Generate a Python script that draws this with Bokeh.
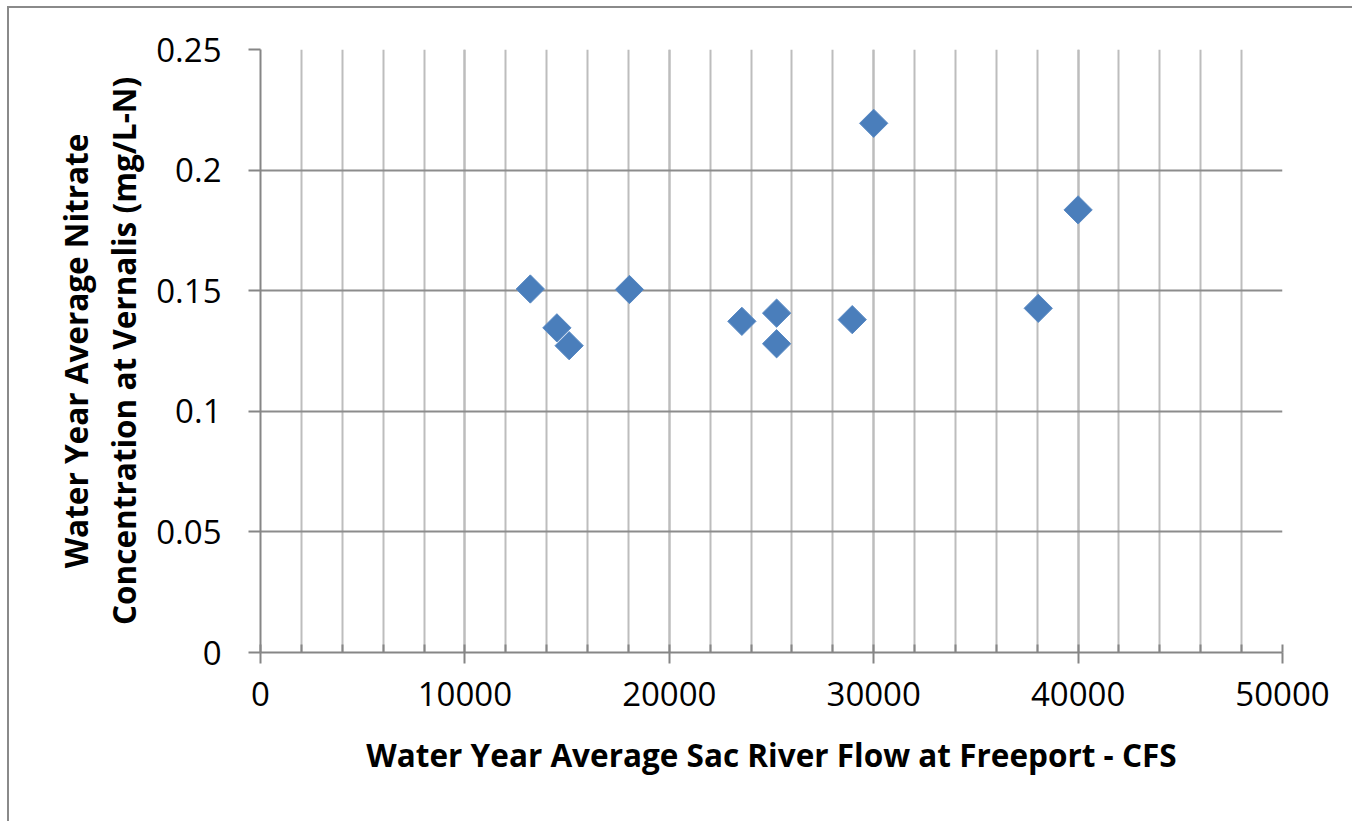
from bokeh.plotting import figure
from bokeh.models import FixedTicker, CustomJSTickFormatter, NumeralTickFormatter, Range1d
from bokeh.embed import file_html
from bokeh.resources import INLINE

flow_cfs = [13200, 14500, 15100, 18050, 23550, 25250, 25250, 28950, 30000, 38050, 40000]
nitrate = [0.1507, 0.1346, 0.1272, 0.1505, 0.1373, 0.1407, 0.1280, 0.1380, 0.2194, 0.1427, 0.1835]

x_major = [0, 10000, 20000, 30000, 40000, 50000]
x_minor = list(range(0, 50001, 2000))
y_major = [0, 0.05, 0.1, 0.15, 0.2, 0.25]

FONT = "Open Sans"
AXIS_GRAY = "#868686"

p = figure(width=1345, height=815, output_backend="svg", toolbar_location=None,
           x_range=Range1d(0, 50000), y_range=Range1d(0, 0.25),
           min_border_left=251, min_border_top=41, min_border_right=72, min_border_bottom=171)
p.styles = {"border-left": "2px solid #8a8a8a", "border-top": "2px solid #8a8a8a",
            "margin-left": "7px", "margin-top": "6px"}
p.outline_line_color = None
p.background_fill_color = "white"
p.border_fill_color = "white"

p.scatter(flow_cfs, nitrate, marker="square", angle=0.785398, size=20,
          fill_color="#4A7EBB", line_color="#5A8AC4", line_width=1)

# x axis
p.xaxis.ticker = FixedTicker(ticks=x_major, minor_ticks=x_minor)
p.xaxis.formatter = NumeralTickFormatter(format="0")
p.xaxis.axis_line_color = AXIS_GRAY
p.xaxis.axis_line_width = 2
p.xaxis.major_tick_line_color = AXIS_GRAY
p.xaxis.major_tick_line_width = 2
p.xaxis.major_tick_out = 11
p.xaxis.major_tick_in = 0
p.xaxis.minor_tick_line_color = AXIS_GRAY
p.xaxis.minor_tick_line_width = 2
p.xaxis.minor_tick_in = 8
p.xaxis.minor_tick_out = 0
p.xaxis.major_label_text_font = FONT
p.xaxis.major_label_text_font_size = "33px"
p.xaxis.major_label_text_color = "black"
p.xaxis.major_label_standoff = 18
p.xaxis.axis_label = "Water Year Average Sac River Flow at Freeport - CFS"
p.xaxis.axis_label_text_font = FONT
p.xaxis.axis_label_text_font_style = "bold"
p.xaxis.axis_label_text_font_size = "31.5px"
p.xaxis.axis_label_text_color = "black"
p.xaxis.axis_label_standoff = 24

# y axis
p.yaxis.ticker = FixedTicker(ticks=y_major)
p.yaxis.formatter = CustomJSTickFormatter(code="""
    let s = tick.toFixed(2);
    s = s.replace(/0+$/, '').replace(/\\.$/, '');
    return s;
""")
p.yaxis.axis_line_color = AXIS_GRAY
p.yaxis.axis_line_width = 2
p.yaxis.major_tick_line_color = AXIS_GRAY
p.yaxis.major_tick_line_width = 2
p.yaxis.major_tick_out = 12
p.yaxis.major_tick_in = 0
p.yaxis.minor_tick_line_color = None
p.yaxis.major_label_text_font = FONT
p.yaxis.major_label_text_font_size = "33px"
p.yaxis.major_label_text_color = "black"
p.yaxis.major_label_standoff = 27
p.yaxis.axis_label = "Water Year Average Nitrate\nConcentration at Vernalis (mg/L-N)"
p.yaxis.axis_label_text_font = FONT
p.yaxis.axis_label_text_font_style = "bold"
p.yaxis.axis_label_text_font_size = "31.5px"
p.yaxis.axis_label_text_color = "black"
p.yaxis.axis_label_text_line_height = 1.12
p.yaxis.axis_label_standoff = 8

# grids
p.xgrid.grid_line_color = "#BDBDBD"
p.xgrid.grid_line_width = 2
p.xgrid.minor_grid_line_color = "#BDBDBD"
p.xgrid.minor_grid_line_width = 2
p.ygrid.grid_line_color = "#8C8C8C"
p.ygrid.grid_line_width = 2

open("out.html", "w").write(file_html(p, INLINE))
